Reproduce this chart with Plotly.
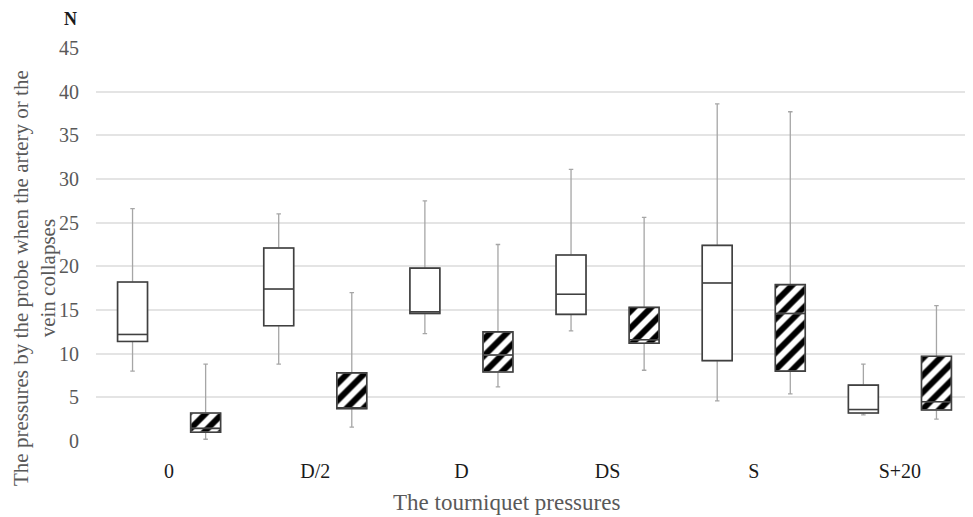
import plotly.graph_objects as go

# ---- data ----
categories = ["0", "D/2", "D", "DS", "S", "S+20"]

open_min = [8.0, 8.8, 12.3, 12.6, 4.6, 3.0]
open_q1 = [11.4, 13.2, 14.6, 14.5, 9.2, 3.2]
open_median = [12.2, 17.4, 14.8, 16.8, 18.1, 3.6]
open_q3 = [18.2, 22.1, 19.8, 21.3, 22.4, 6.4]
open_max = [26.6, 26.0, 27.5, 31.1, 38.6, 8.8]

hatched_min = [0.2, 1.6, 6.2, 8.1, 5.4, 2.5]
hatched_q1 = [1.0, 3.7, 7.9, 11.2, 8.0, 3.55]
hatched_median = [1.45, 3.8, 9.85, 11.6, 14.6, 4.5]
hatched_q3 = [3.2, 7.8, 12.5, 15.3, 17.9, 9.7]
hatched_max = [8.8, 17.0, 22.5, 25.6, 37.7, 15.5]

y_ticks = [0, 5, 10, 15, 20, 25, 30, 35, 40, 45]

# ---- layout helpers ----
n = len(categories)
pos_open = [2 * i for i in range(n)]
pos_hatched = [2 * i + 1 for i in range(n)]
label_pos = [2 * i + 0.5 for i in range(n)]
BW = 0.41
SERIF = "Liberation Serif, Times New Roman, serif"
WHISKER = "#a6a6a6"
OUTLINE = "#404040"
PAGE_OFF = 8  # default body margin of the html page

fig = go.Figure()

# box fills (white / hatched)
fig.add_trace(go.Bar(
    x=pos_open, base=open_q1,
    y=[b - a for a, b in zip(open_q1, open_q3)],
    width=BW, marker=dict(color="white", opacity=1, line=dict(width=0)),
    hoverinfo="skip", showlegend=False))
fig.add_trace(go.Bar(
    x=pos_hatched, base=hatched_q1,
    y=[b - a for a, b in zip(hatched_q1, hatched_q3)],
    width=BW,
    marker=dict(color="white", opacity=1, line=dict(width=0),
                pattern=dict(shape="/", fgcolor="#000000", bgcolor="white",
                             fgopacity=1, size=12, solidity=0.5)),
    hoverinfo="skip", showlegend=False))

# whiskers (grey)
for pos, lo, q1, med, q3, hi in [
    (pos_open, open_min, open_q1, open_median, open_q3, open_max),
    (pos_hatched, hatched_min, hatched_q1, hatched_median, hatched_q3, hatched_max),
]:
    fig.add_trace(go.Box(
        x=pos, q1=q1, median=med, q3=q3, lowerfence=lo, upperfence=hi,
        width=BW, whiskerwidth=0.15, boxpoints=False,
        line=dict(color=WHISKER, width=1.3), fillcolor="rgba(0,0,0,0)",
        hoverinfo="skip", showlegend=False))

# box outlines + medians (dark)
for pos, q1, med, q3 in [
    (pos_open, open_q1, open_median, open_q3),
    (pos_hatched, hatched_q1, hatched_median, hatched_q3),
]:
    fig.add_trace(go.Box(
        x=pos, q1=q1, median=med, q3=q3, lowerfence=q1, upperfence=q3,
        width=BW, whiskerwidth=0, boxpoints=False,
        line=dict(color=OUTLINE, width=1.6), fillcolor="rgba(0,0,0,0)",
        hoverinfo="skip", showlegend=False))

fig.update_layout(
    width=973 - PAGE_OFF, height=517 - PAGE_OFF,
    margin=dict(l=96 - PAGE_OFF, r=0, t=48 - PAGE_OFF, b=76, autoexpand=False),
    paper_bgcolor="white", plot_bgcolor="white",
    barmode="overlay", boxmode="overlay",
    showlegend=False,
    font=dict(family=SERIF, size=20, color="#595959"),
    xaxis=dict(range=[-0.5, 2 * n - 0.5], showgrid=False, zeroline=False,
               showline=False, ticks="", tickmode="array",
               tickvals=label_pos, ticktext=categories,
               tickfont=dict(family=SERIF, size=20, color="#1a1a1a"),
               ticklabelstandoff=16, fixedrange=True, automargin=False),
    yaxis=dict(range=[0, 45], tickmode="array", tickvals=y_ticks,
               showgrid=True, gridcolor="#e4e4e4", gridwidth=1.5,
               zeroline=False, showline=False, ticks="",
               tickfont=dict(family=SERIF, size=20, color="#595959"),
               ticklabelstandoff=16, fixedrange=True, automargin=False),
    annotations=[
        dict(text="The tourniquet pressures", xref="paper", yref="paper",
             x=(506 - 96) / 877, y=(441 - 502) / 393, xanchor="center",
             yanchor="middle", showarrow=False,
             font=dict(family=SERIF, size=23, color="#595959")),
        dict(text="The pressures by the probe when the artery or the<br>vein collapses",
             xref="paper", yref="paper", x=(34 - 96) / 877, y=(441 - 278) / 393,
             xanchor="center", yanchor="middle", textangle=-90, showarrow=False,
             borderpad=0,
             font=dict(family=SERIF, size=21, color="#595959")),
        dict(text="<b>N</b>", xref="paper", yref="paper",
             x=(70 - 96) / 877, y=(441 - 19) / 393, xanchor="center",
             yanchor="middle", showarrow=False, borderpad=0,
             font=dict(family=SERIF, size=18, color="#1a1a1a")),
    ],
)

fig.write_html("out.html")
